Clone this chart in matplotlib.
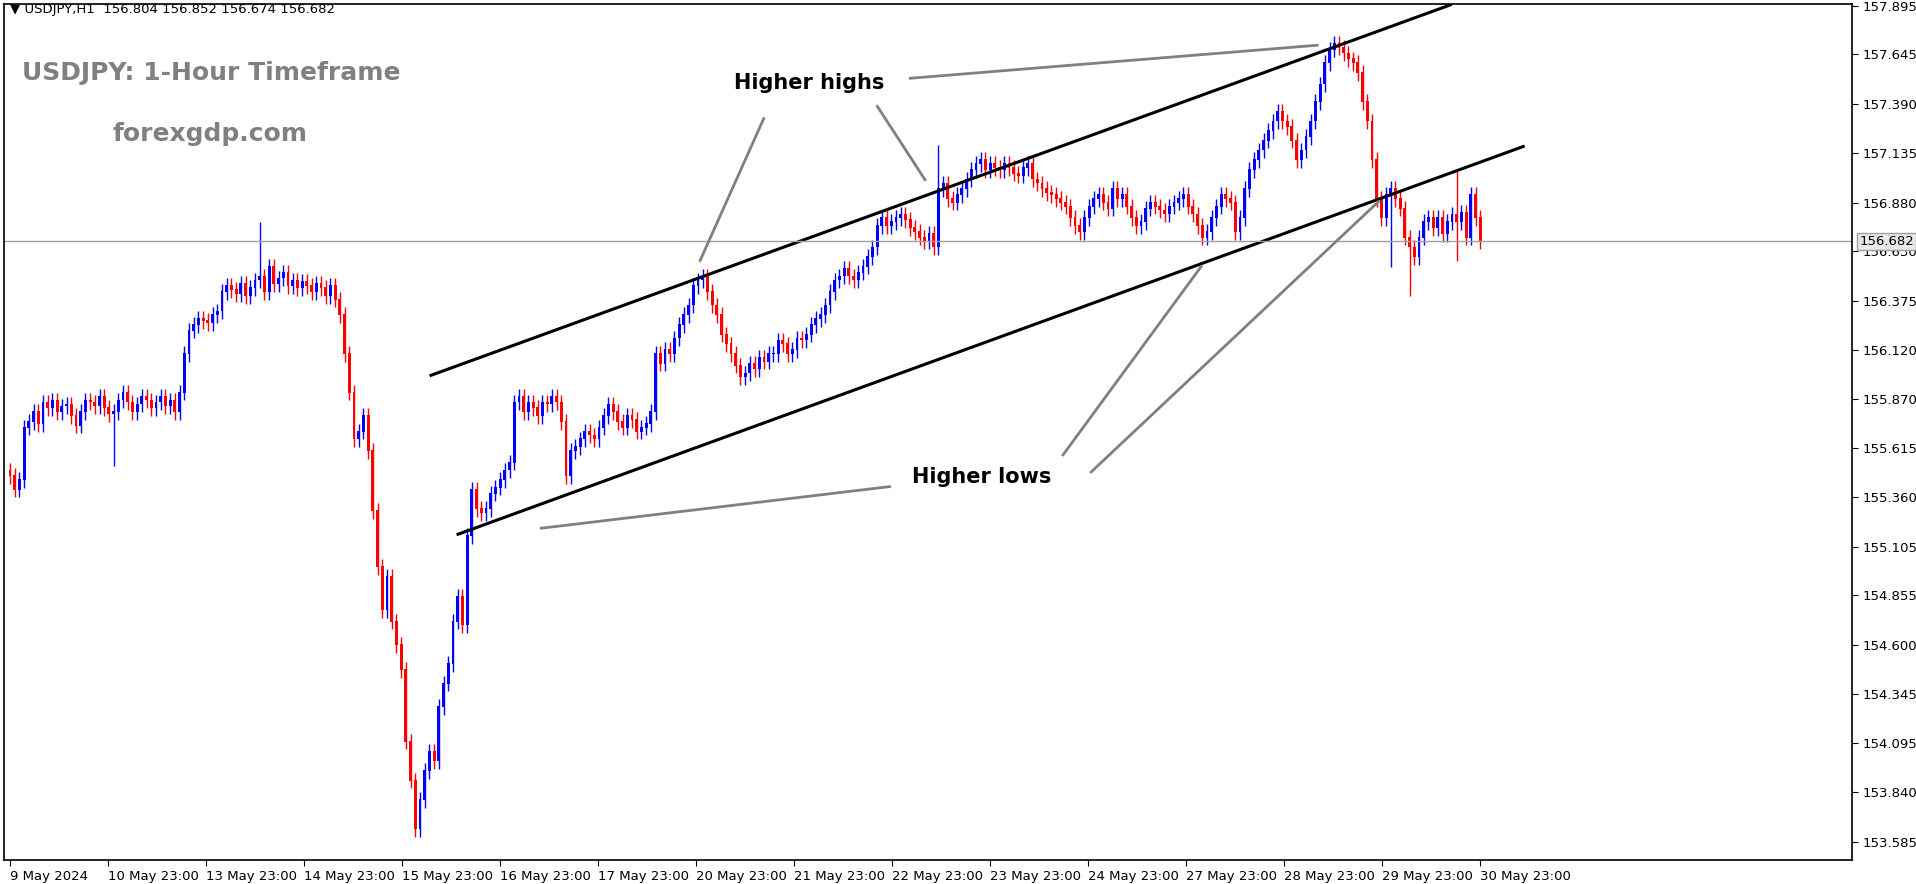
import numpy as np
import matplotlib
matplotlib.use('Agg')
import matplotlib.pyplot as plt

# Hourly closes (left to right)
closes = [
    155.47, 155.40, 155.45, 155.72, 155.75, 155.80, 155.74, 155.85, 155.82, 155.86,
    155.80, 155.83, 155.84, 155.78, 155.73, 155.80, 155.86, 155.85, 155.83, 155.88, 155.82, 155.79,
    155.80, 155.86, 155.90, 155.85, 155.80, 155.84, 155.88, 155.86, 155.82, 155.85, 155.88,
    155.83, 155.86, 155.80, 155.90, 156.10, 156.22, 156.25, 156.28, 156.27,
    156.26, 156.30, 156.32, 156.42, 156.45, 156.43, 156.41, 156.46, 156.40, 156.44, 156.48,
    156.50, 156.42, 156.55, 156.46, 156.49, 156.52, 156.45, 156.48, 156.44, 156.47, 156.45, 156.42,
    156.46, 156.44, 156.40, 156.45, 156.38, 156.30, 156.10, 155.90, 155.66, 155.70, 155.78, 155.60,
    155.29, 155.00, 154.78, 154.95, 154.72, 154.60, 154.47, 154.10, 153.90,
    153.65, 153.80, 153.95, 154.05, 154.00, 154.28, 154.40, 154.50, 154.72, 154.85, 154.70, 155.16,
    155.40, 155.30, 155.28, 155.30, 155.38, 155.41, 155.45, 155.50, 155.54, 155.85,
    155.88, 155.80, 155.85, 155.82, 155.78, 155.85, 155.84, 155.88, 155.85, 155.75, 155.47, 155.60,
    155.62, 155.66, 155.70, 155.68, 155.66, 155.72, 155.78, 155.84, 155.80, 155.75, 155.72, 155.78,
    155.76, 155.70, 155.72, 155.74, 155.80, 156.10, 156.05, 156.12, 156.10, 156.18, 156.25, 156.30,
    156.35, 156.45, 156.48, 156.50, 156.42, 156.35, 156.30, 156.20, 156.15, 156.10, 156.04, 155.98,
    156.00, 156.05, 156.02, 156.08, 156.06, 156.10,
    156.10, 156.17, 156.15, 156.10, 156.12, 156.18, 156.17, 156.20, 156.25, 156.28, 156.30, 156.35,
    156.42, 156.48, 156.50, 156.54, 156.50, 156.48, 156.52, 156.55, 156.60, 156.65, 156.76, 156.80,
    156.76, 156.78, 156.80, 156.82, 156.79, 156.75, 156.73, 156.70, 156.68, 156.72, 156.65, 156.95,
    156.98, 156.90, 156.88, 156.92, 156.95, 157.00, 157.05, 157.08, 157.10, 157.05, 157.08, 157.06,
    157.05, 157.08, 157.06, 157.03, 157.02, 157.06, 157.08, 157.00, 156.98, 156.95, 156.93, 156.92,
    156.90, 156.88, 156.86, 156.80, 156.76, 156.73, 156.80, 156.86, 156.90, 156.92, 156.88, 156.85,
    156.95, 156.90, 156.92,
    156.86, 156.80, 156.76, 156.78, 156.85, 156.88, 156.86, 156.84, 156.82, 156.86, 156.88, 156.90,
    156.92, 156.86, 156.82, 156.76, 156.70, 156.73, 156.80, 156.86, 156.92, 156.90, 156.88, 156.73,
    156.80, 156.95, 157.05, 157.10, 157.15, 157.20, 157.25, 157.30, 157.35, 157.30, 157.27, 157.20,
    157.10, 157.15, 157.22, 157.30, 157.40, 157.49, 157.60, 157.67, 157.70, 157.68, 157.65, 157.62,
    157.60, 157.55, 157.40, 157.30, 157.10, 156.90, 156.80, 156.92, 156.95, 156.90, 156.85, 156.70,
    156.65, 156.60, 156.70, 156.78, 156.80, 156.75, 156.80, 156.72, 156.78,
    156.82, 156.78, 156.83, 156.70, 156.92, 156.80, 156.68,
]
first_open = 155.50
wick = 0.04
# a few long wicks visible on the chart: candle index -> extreme price
high_spikes = {53: 156.78, 197: 157.18, 307: 157.05}
low_spikes = {22: 155.52, 293: 156.55, 297: 156.40, 307: 156.58}

date_labels = ['9 May 2024', '10 May 23:00', '13 May 23:00', '14 May 23:00', '15 May 23:00',
               '16 May 23:00', '17 May 23:00', '20 May 23:00', '21 May 23:00', '22 May 23:00',
               '23 May 23:00', '24 May 23:00', '27 May 23:00', '28 May 23:00', '29 May 23:00',
               '30 May 23:00']
price_ticks = [153.585, 153.840, 154.095, 154.345, 154.600, 154.855, 155.105, 155.360, 155.615,
               155.870, 156.120, 156.375, 156.630, 156.880, 157.135, 157.390, 157.645, 157.895]
last_price = 156.682

# channel lines: (x position, price) endpoints, x in hours from first label
upper_line = [(103.1, 155.99), (352.6, 157.90)]
lower_line = [(109.7, 155.17), (370.5, 157.17)]

W, H = 1568, 723  # reading coordinates used for annotation placement

closes = np.array(closes)
opens = np.concatenate([[first_open], closes[:-1]])
highs = np.maximum(opens, closes) + wick
lows = np.minimum(opens, closes) - wick
for i, v in high_spikes.items():
    highs[i] = v
for i, v in low_spikes.items():
    lows[i] = v
# spread candles so the last one sits on the last date label
span = 24 * (len(date_labels) - 1)
xpos = np.arange(len(closes)) * span / (len(closes) - 1)

fig = plt.figure(figsize=(19.16, 8.84), dpi=100)
ax = fig.add_axes([0.002, 1 - 860 / 884, 0.9666 - 0.002, (860 - 4) / 884])
ax.set_facecolor('white')

up = closes >= opens
colors = np.where(up, '#0000ff', '#ff0000')
ax.vlines(xpos, lows, highs, colors=colors, linewidth=1)
ax.bar(xpos, np.abs(closes - opens) + 0.004, bottom=np.minimum(opens, closes),
       width=0.7, color=colors, edgecolor=colors, linewidth=0)

for (x0, y0), (x1, y1) in [upper_line, lower_line]:
    ax.plot([x0, x1], [y0, y1], color='black', linewidth=2.2)

ax.axhline(last_price, color='#a0a0a0', linewidth=1)

ax.set_xlim(-1.5, 451)
ax.set_ylim(153.49, 157.905)
ax.yaxis.tick_right()
ax.set_yticks(price_ticks)
ax.set_yticklabels([f'{p:.3f}' for p in price_ticks])
ax.set_xticks(np.arange(len(date_labels)) * 24)
ax.set_xticklabels(date_labels)
ax.tick_params(axis='both', labelsize=9.5, length=4, colors='black')
for lbl in ax.get_xticklabels():
    lbl.set_horizontalalignment('left')
for s in ax.spines.values():
    s.set_color('black')
    s.set_linewidth(1.2)

ax.text(1.004, (last_price - 153.49) / (157.905 - 153.49), f'{last_price:.3f}',
        transform=ax.transAxes, fontsize=9.5, va='center', ha='left',
        bbox=dict(facecolor='#e8e8e8', edgecolor='#a0a0a0', pad=1.5))


def fp(x, y):
    return x / W, 1 - y / H


fig.text(*fp(8, 8), '▼ USDJPY,H1  156.804 156.852 156.674 156.682', fontsize=9.5, va='center')
fig.text(*fp(18, 60), 'USDJPY: 1-Hour Timeframe', fontsize=18, fontweight='bold',
         color='#808080', va='center')
fig.text(*fp(92, 110), 'forexgdp.com', fontsize=18, fontweight='bold',
         color='#808080', va='center')

fig.text(*fp(662, 68), 'Higher highs', fontsize=15, fontweight='bold', ha='center', va='center')
fig.text(*fp(803, 390), 'Higher lows', fontsize=15, fontweight='bold', ha='center', va='center')

pointers = [((625, 97), (573, 213)), ((718, 87), (757, 147)), ((745, 64), (1078, 37)),
            ((728, 398), (443, 432)), ((870, 372), (983, 218)), ((893, 386), (1128, 165))]
for a, b in pointers:
    (x0, y0), (x1, y1) = fp(*a), fp(*b)
    fig.add_artist(plt.Line2D([x0, x1], [y0, y1], color='#808080', linewidth=2,
                              transform=fig.transFigure))

fig.savefig('out.png', dpi=100, facecolor='white')
